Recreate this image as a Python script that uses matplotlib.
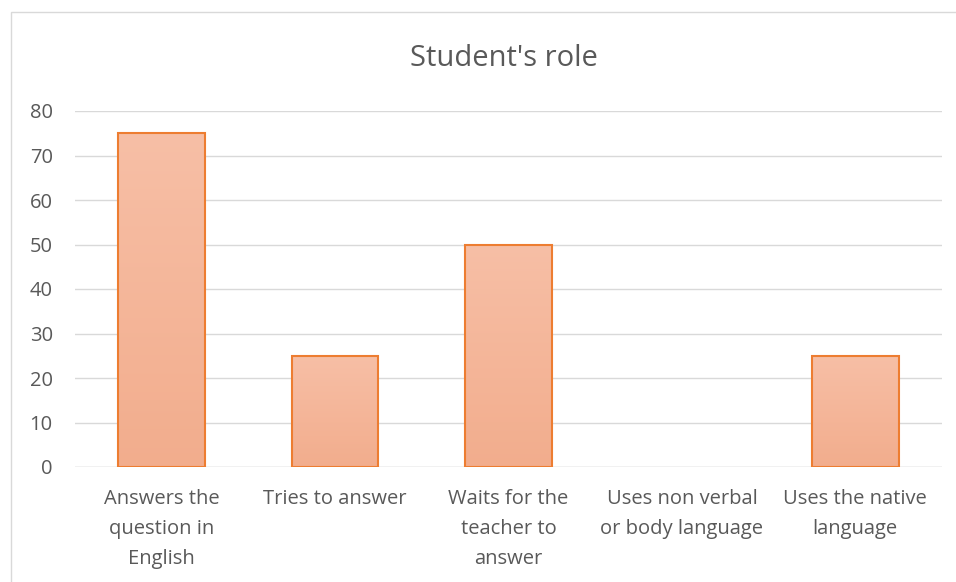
import matplotlib
matplotlib.use("Agg")
import matplotlib.pyplot as plt
import numpy as np
from matplotlib.colors import LinearSegmentedColormap
from matplotlib.patches import Rectangle

categories = ["Answers the\nquestion in\nEnglish", "Tries to answer",
              "Waits for the\nteacher to\nanswer", "Uses non verbal\nor body language",
              "Uses the native\nlanguage"]
values = [75, 25, 50, 0, 25]
yticks = [0, 10, 20, 30, 40, 50, 60, 70, 80]
title = "Student's role"

plt.rcParams['font.family'] = ['Open Sans', 'DejaVu Sans']

fig = plt.figure(figsize=(9.56, 5.82), dpi=100)
ax = fig.add_axes([75/956, 1-467/582, (942-75)/956, (467-111)/582])

# outer chart border
fig.patches.append(Rectangle((11/956, -0.05), 1.0, 1-12/582+0.05, transform=fig.transFigure,
                             fill=False, edgecolor="#D9D9D9", linewidth=1.0))

x = np.arange(len(values))
bars = ax.bar(x, values, width=0.5, color="none", edgecolor="#ED7D31", linewidth=1.5, zorder=3)

cmap = LinearSegmentedColormap.from_list("g", ["#F2AD8D", "#F7BFA6"])
grad = np.linspace(0, 1, 256).reshape(-1, 1)
for b in bars:
    if b.get_height() <= 0:
        b.set_visible(False)
        continue
    xl, w, h = b.get_x(), b.get_width(), b.get_height()
    im = ax.imshow(grad, cmap=cmap, aspect="auto", origin="lower",
                   extent=[xl, xl + w, 0, h], zorder=2)
    im.set_clip_path(b)

ax.set_xlim(-0.5, len(values) - 0.5)
ax.set_ylim(0, 80)
ax.set_yticks(yticks)
ax.set_xticks(x)
ax.set_xticklabels(categories, fontsize=14.5, color="#595959", linespacing=1.65)
ax.tick_params(axis="y", labelsize=14.5, colors="#595959", length=0, pad=16)
ax.tick_params(axis="x", length=0, pad=16)
ax.grid(axis="y", color="#D9D9D9", linewidth=1.0, zorder=0)
ax.set_axisbelow(True)
for s in ax.spines.values():
    s.set_visible(False)
ax.axhline(0, color="#D9D9D9", linewidth=1.0, zorder=1)

fig.text(504/956, 1-59/582, title, ha="center", va="center", fontsize=21, color="#595959")

fig.savefig("out.png", dpi=100)
